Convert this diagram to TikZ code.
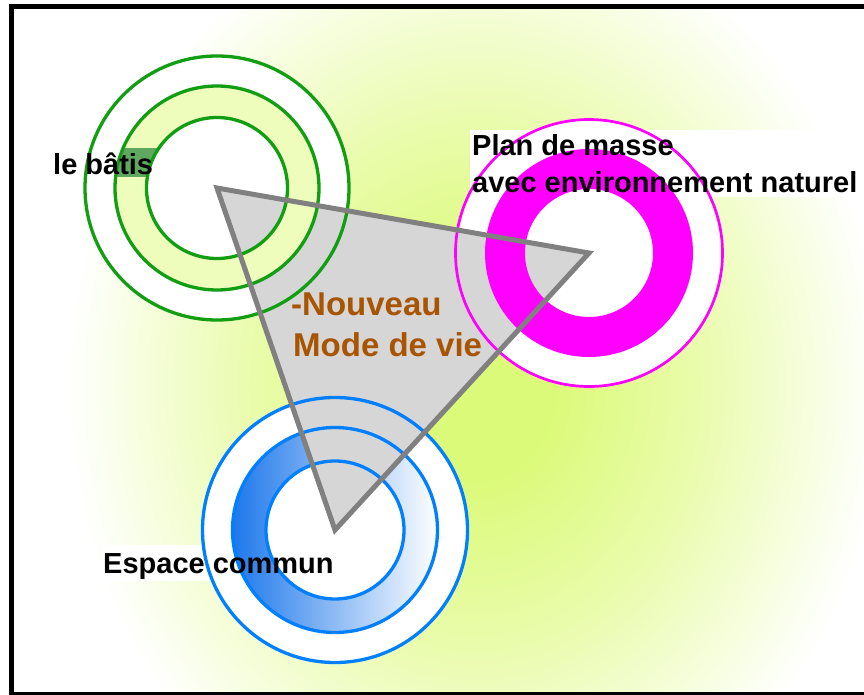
\documentclass[tikz,border=0pt]{standalone}
\usepackage{fontspec}
\setmainfont{Liberation Sans}
\definecolor{bgc}{RGB}{220,250,122}
\definecolor{gcol}{RGB}{18,158,18}
\definecolor{gband}{RGB}{238,252,188}
\definecolor{grect}{RGB}{96,168,96}
\definecolor{mcol}{RGB}{255,0,255}
\definecolor{bcol}{RGB}{0,128,255}
\definecolor{bgrad1}{RGB}{30,120,235}
\definecolor{trifill}{RGB}{214,214,214}
\definecolor{triline}{RGB}{128,128,128}
\definecolor{nvbrown}{RGB}{168,84,0}
\colorlet{bgmid}{bgc!62!white}
\pgfdeclareradialshading{bgrad}{\pgfpoint{0bp}{0bp}}{color(0bp)=(bgc); color(2bp)=(bgc); color(5.5bp)=(bgmid); color(10bp)=(white); color(50bp)=(white)}
\begin{document}
\begin{tikzpicture}[x=1pt,y=-1pt,
  lab/.style={font=\fontsize{29}{35}\selectfont\bfseries, text=black, inner sep=0pt, anchor=base west},
  brownlab/.style={font=\fontsize{33}{40}\selectfont\bfseries, text=nvbrown, inner sep=0pt, anchor=base west},
  gline/.style={draw=gcol, line width=3.3},
  bline/.style={draw=bcol, line width=3.3},
  mline/.style={draw=mcol, line width=2.7},
  mband/.style={draw=mcol, line width=40},
  trishape/.style={draw=triline, line width=5, line join=miter}
]
\useasboundingbox (0,0) rectangle (864,695);
\coordinate (A) at (217,188);
\coordinate (B) at (589,253);
\coordinate (C) at (335,530);
% background and frame
\begin{scope}
  \clip (0,0) rectangle (864,695);
  \fill[white] (0,0) rectangle (864,695);
  \begin{scope}
    \clip (11.7,6.7) rectangle (880,693.8);
    \fill[shading=bgrad] (475,385) ellipse [x radius=1020, y radius=1200];
  \end{scope}
  \draw[line width=4.6] (11.7,6.7) rectangle (880,693.8);
\end{scope}
% white label boxes
\fill[white] (470,130) rectangle (862,197);
\fill[white] (103,545) rectangle (215,581);
% circle fills
\fill[white, even odd rule] (A) circle[radius=132] (A) circle[radius=102];
\fill[white] (A) circle[radius=70.5];
\fill[white] (B) circle[radius=133.5];
\fill[white] (C) circle[radius=132.5];
\shade[left color=bgrad1, right color=white, even odd rule] (C) circle[radius=102.5] (C) circle[radius=69];
% triangle fill
\fill[trifill] (A) -- (B) -- (C) -- cycle;
% green band
\fill[gband, even odd rule] (A) circle[radius=102] (A) circle[radius=70.5];
\begin{scope}[even odd rule]
  \clip (A) circle[radius=102] (A) circle[radius=70.5];
  \fill[grect] (110,148) rectangle (157,177);
\end{scope}
% circle strokes
\draw[gline] (A) circle[radius=70.5] (A) circle[radius=102] (A) circle[radius=132];
\draw[mband] (B) circle[radius=84];
\draw[mline] (B) circle[radius=133.5];
\draw[bline] (C) circle[radius=69] (C) circle[radius=102.5] (C) circle[radius=132.5];
% triangle outline
\draw[trishape] (A) -- (B) -- (C) -- cycle;
% labels
\node[lab] (batis) at (53,175) {le bâtis};
\node[lab] (plan1) at (472,156) {Plan de masse};
\node[lab] (plan2) at (472,193) {avec environnement naturel};
\node[lab] (espace) at (103,573) {Espace commun};
\node[brownlab] (nouv1) at (291,315) {-Nouveau};
\node[brownlab] (nouv2) at (293,356) {Mode de vie};
\end{tikzpicture}
\end{document}
